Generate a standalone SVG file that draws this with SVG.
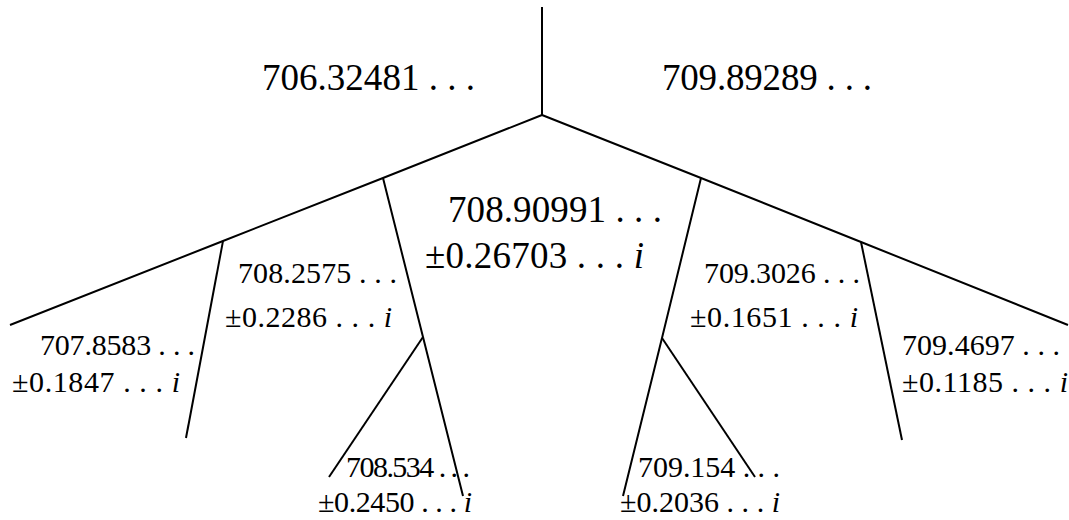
<svg xmlns="http://www.w3.org/2000/svg" width="1069" height="520" viewBox="0 0 1069 520">
<style>
.e{fill:none;stroke:#000;stroke-width:2;stroke-linecap:butt;stroke-linejoin:round}
.b{font-family:"Liberation Serif","DejaVu Serif",serif;font-size:37px;fill:#000}
.s{font-family:"Liberation Serif","DejaVu Serif",serif;font-size:30px;fill:#000}
.i{font-style:italic}
</style>
<rect width="1069" height="520" fill="#fff"/>
<g id="connectors">
<path class="e" d="M542,7 L542,115"/>
<path class="e" d="M542,115 L383,178 L223,241 L10,325"/>
<path class="e" d="M542,115 L701,178 L861,242 L1068,325"/>
<path class="e" d="M383,178 L423,337 L463,496"/>
<path class="e" d="M423,337 L329,477"/>
<path class="e" d="M223,241 L186,438"/>
<path class="e" d="M701,178 L662,338 L623,496"/>
<path class="e" d="M662,338 L755,477"/>
<path class="e" d="M861,242 L902,440"/>
</g>
<g id="n-root-left"><text class="b" x="262" y="90" textLength="213">706.32481 . . .</text></g>
<g id="n-root-right"><text class="b" x="662" y="90" textLength="210">709.89289 . . .</text></g>
<g id="n-center"><text class="b" x="448" y="222" textLength="214">708.90991 . . .</text><text class="b" x="425" y="268" textLength="219">±0.26703 . . . <tspan class="i">i</tspan></text></g>
<g id="n-2575"><text class="s" x="238" y="283" textLength="159">708.2575 . . .</text><text class="s" x="225" y="327" textLength="167">±0.2286 . . . <tspan class="i">i</tspan></text></g>
<g id="n-8583"><text class="s" x="40" y="355" textLength="155">707.8583 . . .</text><text class="s" x="12" y="392" textLength="168">±0.1847 . . . <tspan class="i">i</tspan></text></g>
<g id="n-534"><text class="s" x="346" y="477" textLength="124">708.534 . . .</text><text class="s" x="318" y="512" textLength="154">±0.2450 . . . <tspan class="i">i</tspan></text></g>
<g id="n-154"><text class="s" x="638" y="477" textLength="142">709.154 . . .</text><text class="s" x="620" y="512" textLength="160">±0.2036 . . . <tspan class="i">i</tspan></text></g>
<g id="n-3026"><text class="s" x="704" y="283" textLength="156">709.3026 . . .</text><text class="s" x="690" y="327" textLength="168">±0.1651 . . . <tspan class="i">i</tspan></text></g>
<g id="n-4697"><text class="s" x="902" y="355" textLength="158">709.4697 . . .</text><text class="s" x="902" y="392" textLength="166">±0.1185 . . . <tspan class="i">i</tspan></text></g>
</svg>
